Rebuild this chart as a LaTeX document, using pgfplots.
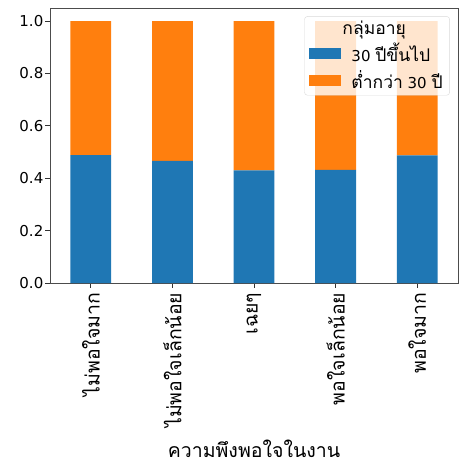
\documentclass[border=0pt]{standalone}
\usepackage{fontspec}
\setmainfont{DejaVu Sans}
\newfontfamily\thaifont[Script=Thai]{Loma}
\usepackage{pgfplots}
\pgfplotsset{compat=1.18}
\definecolor{c1}{HTML}{1F77B4}
\definecolor{c2}{HTML}{FF7F0E}
\newcommand{\thtext}{\thaifont\fontsize{19.5bp}{22bp}\selectfont}
\newcommand{\thleg}{\thaifont\fontsize{17.5bp}{20bp}\selectfont}
\begin{document}
\fontsize{15bp}{18bp}\selectfont
\begin{tikzpicture}
\begin{axis}[
  scale only axis, width=408bp, height=275bp,
  ybar stacked, bar width=40.8bp,
  xmin=-0.5, xmax=4.5, ymin=0, ymax=1.05,
  xtick={0,1,2,3,4},
  xticklabels={ไม่พอใจมาก, ไม่พอใจเล็กน้อย, เฉยๆ, พอใจเล็กน้อย, พอใจมาก},
  xticklabel style={rotate=90, anchor=east, font=\thtext, inner sep=5bp},
  ytick={0,0.2,0.4,0.6,0.8,1.0},
  yticklabel style={/pgf/number format/fixed, /pgf/number format/fixed zerofill, /pgf/number format/precision=1, inner sep=2bp},
  /pgf/number format/assume math mode=true,
  tick align=outside, tick pos=left, major tick length=4.5bp,
  tick style={black!80, line width=0.8bp},
  axis line style={black!70, line width=0.8bp},
  xlabel={\thtext ความพึงพอใจในงาน},
  xlabel style={at={(axis description cs:0.5,0)}, anchor=base, yshift=-174bp},
  legend style={at={(0.98,0.97)}, anchor=north east, draw=black!15, fill=white, fill opacity=0.8, text opacity=1, rounded corners=3bp, row sep=2bp, inner xsep=5bp, inner ysep=3bp},
  legend cell align=left,
  legend image code/.code={\fill[#1, fill opacity=1, sharp corners] (0bp,-5.5bp) rectangle (32bp,5.5bp); \path (40bp,0bp);},
]
\addlegendimage{empty legend}
\addlegendentry{\makebox[0pt][l]{\hspace{-9bp}\thleg กลุ่มอายุ}}
\addplot[fill=c1, draw=none] coordinates {(0,0.488) (1,0.466) (2,0.430) (3,0.432) (4,0.487)};
\addlegendentry{30 {\thleg ปีขึ้นไป}}
\addplot[fill=c2, draw=none] coordinates {(0,0.512) (1,0.534) (2,0.570) (3,0.568) (4,0.513)};
\addlegendentry{{\thleg ต่ำกว่า} 30 {\thleg ปี}}
\coordinate (bl) at (rel axis cs:0,0);
\coordinate (tr) at (rel axis cs:1,1);
\end{axis}
\pgfresetboundingbox
\path ([shift={(-50bp,-183bp)}]bl) rectangle ([shift={(18bp,8bp)}]tr);
\end{tikzpicture}
\end{document}
